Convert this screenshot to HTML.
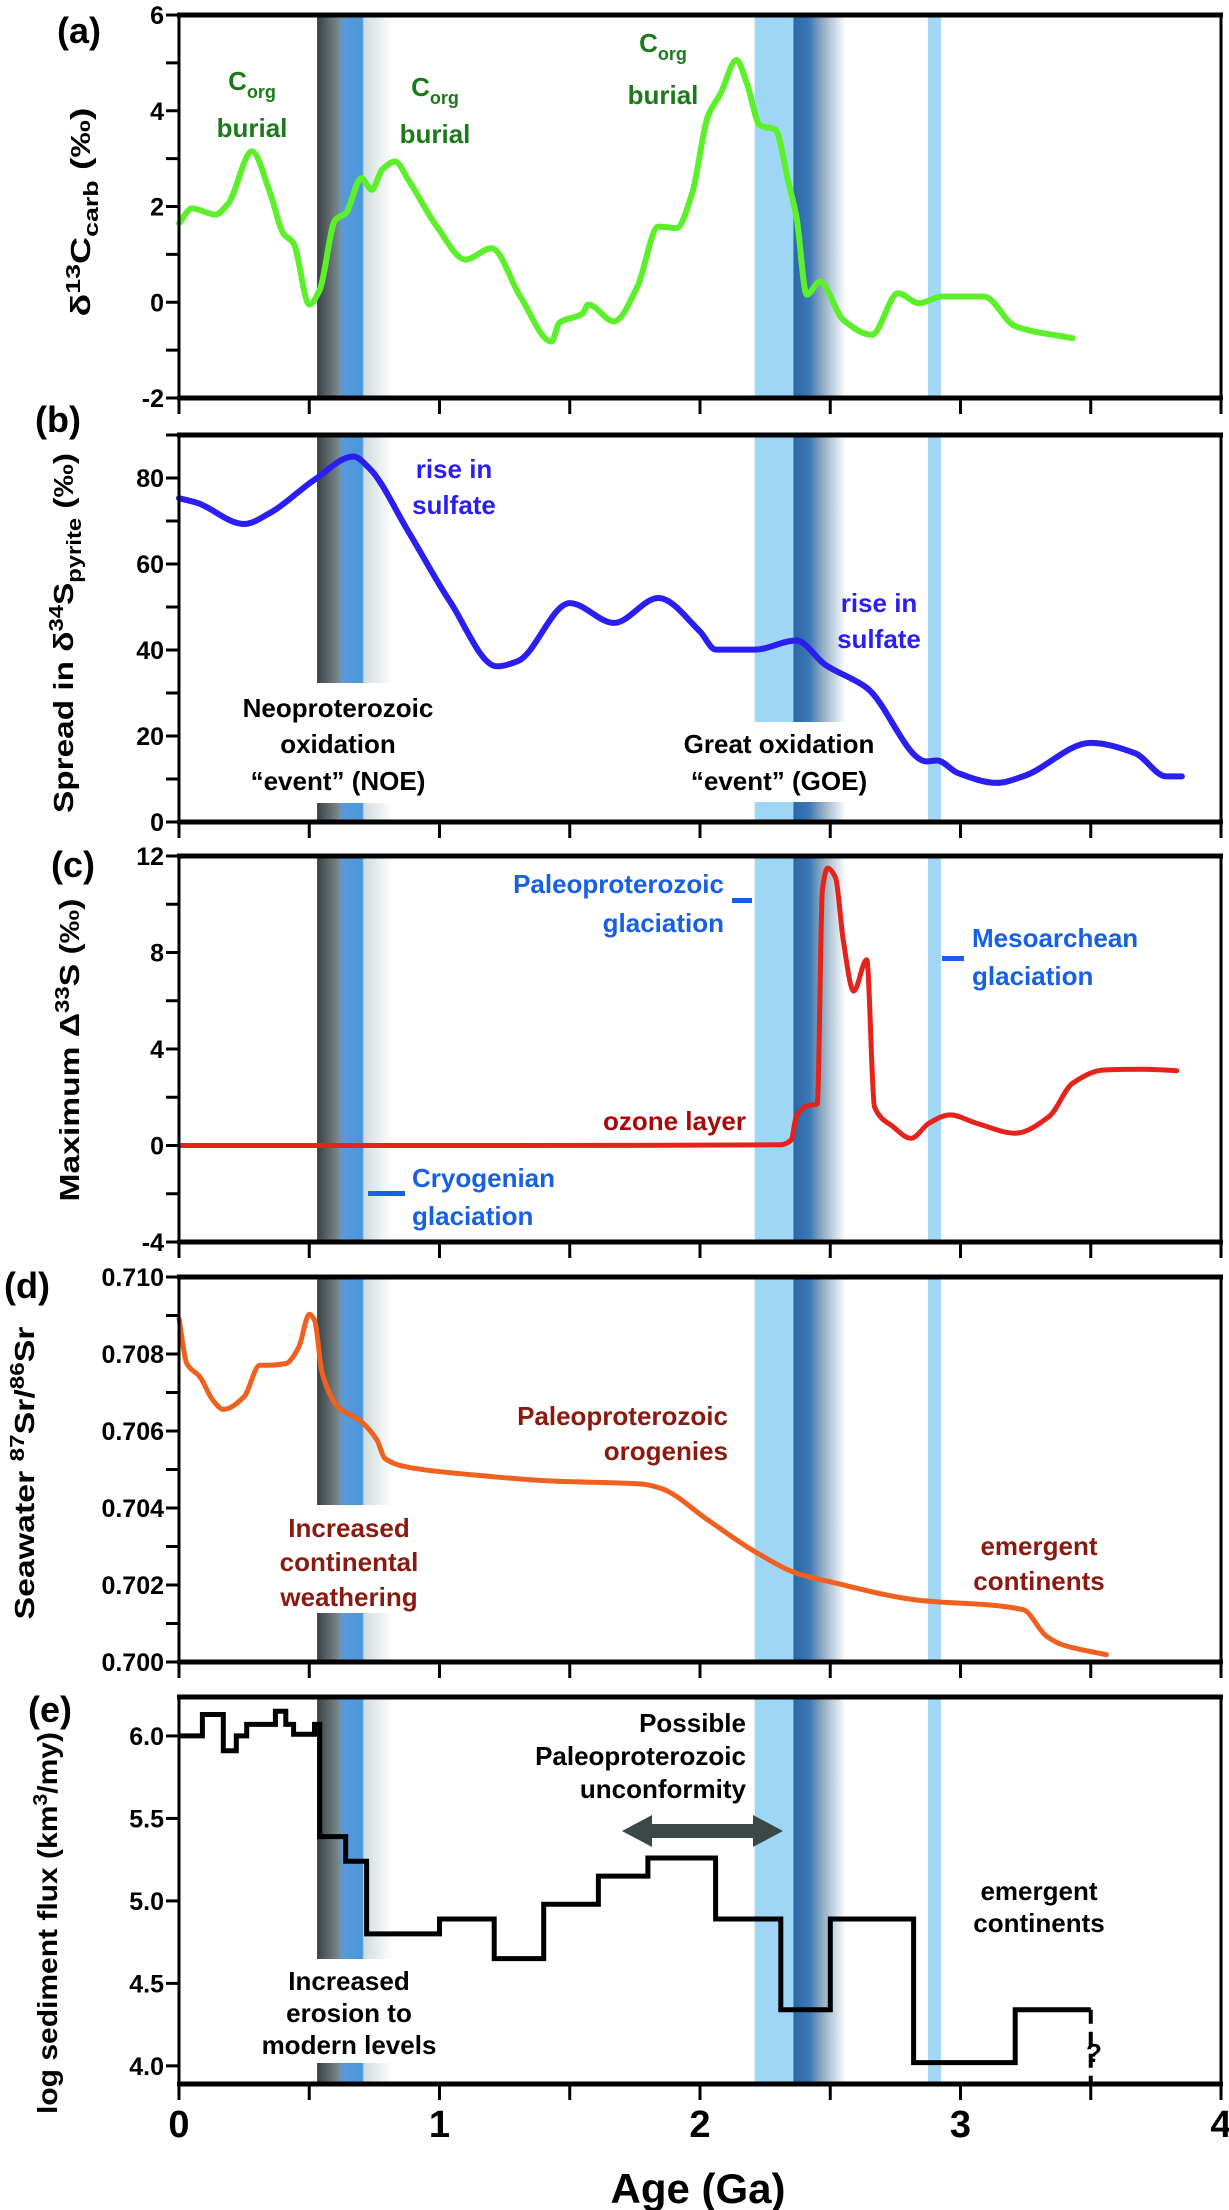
<!DOCTYPE html>
<html><head><meta charset="utf-8">
<style>
html,body{margin:0;padding:0;background:#fff;}
svg{display:block;}
.cn{font-family:"Liberation Sans",sans-serif;font-weight:bold;}
.ar{font-family:"Liberation Sans",sans-serif;font-weight:bold;}
</style></head>
<body>
<svg id="fig" width="1229" height="2210" viewBox="0 0 1229 2210" xmlns="http://www.w3.org/2000/svg">
<defs>
<linearGradient id="neo" x1="0" x2="1" y1="0" y2="0">
<stop offset="0" stop-color="#3a4242"/><stop offset="0.3" stop-color="#7d8c92"/><stop offset="0.32" stop-color="#5a9ad6"/><stop offset="0.6" stop-color="#4a96dc"/><stop offset="0.62" stop-color="#d0dcdc"/><stop offset="1" stop-color="#ffffff"/>
</linearGradient>
<linearGradient id="goe" x1="0" x2="1" y1="0" y2="0">
<stop offset="0" stop-color="#9fd6f6"/><stop offset="0.42" stop-color="#9fd6f6"/><stop offset="0.43" stop-color="#2a68a8"/><stop offset="0.6" stop-color="#3c78b6"/><stop offset="0.73" stop-color="#8aa8c0"/><stop offset="1" stop-color="#ffffff"/>
</linearGradient>
</defs>
<g id="bands"></g>
<g id="plots"></g>
<g id="ann"></g>
</svg>
<script>
// ---- data ----
const xTicks = [0,0.5,1,1.5,2,2.5,3,3.5,4];
const xTickLabels = ["0","1","2","3","4"];
const aAge = [0,0.05,0.14,0.19,0.28,0.35,0.40,0.44,0.50,0.54,0.60,0.64,0.70,0.74,0.78,0.83,0.88,0.99,1.10,1.20,1.31,1.43,1.46,1.55,1.57,1.67,1.76,1.84,1.91,1.97,2.03,2.08,2.14,2.18,2.23,2.29,2.34,2.37,2.41,2.46,2.55,2.66,2.76,2.84,2.93,3.09,3.21,3.43];
const aVal = [1.65,1.96,1.83,2.07,3.15,2.28,1.44,1.23,-0.05,0.26,1.72,1.86,2.59,2.35,2.77,2.94,2.56,1.58,0.89,1.13,0.12,-0.82,-0.43,-0.23,-0.05,-0.40,0.33,1.58,1.55,2.28,3.88,4.37,5.06,4.57,3.70,3.60,2.49,1.79,0.16,0.43,-0.37,-0.68,0.19,-0.02,0.12,0.12,-0.50,-0.75];
const bAge = [0,0.07,0.25,0.35,0.52,0.67,0.73,0.88,1.04,1.22,1.30,1.50,1.67,1.84,2.0,2.06,2.21,2.37,2.48,2.64,2.87,2.91,2.99,3.14,3.24,3.50,3.67,3.79,3.85];
const bVal = [75.3,74.2,69.3,71.9,79.6,85.0,82.3,67.6,51.3,36.2,37.4,50.9,46.3,52.1,44.3,40.1,40.1,42.2,36.6,31.2,14.1,14.3,11.4,9.1,10.6,18.4,16.0,10.6,10.6];
const cAge = [0,1.0,2.31,2.35,2.37,2.41,2.45,2.47,2.49,2.52,2.55,2.59,2.64,2.67,2.74,2.81,2.88,2.96,3.06,3.21,3.34,3.43,3.55,3.70,3.83];
const cVal = [0,0,0.03,0.23,1.20,1.64,1.72,10.6,11.5,11.1,8.5,6.4,7.7,1.6,0.79,0.30,0.93,1.27,0.93,0.51,1.20,2.58,3.13,3.16,3.10];
const dAge = [0,0.03,0.08,0.13,0.17,0.25,0.31,0.34,0.41,0.46,0.50,0.52,0.55,0.61,0.70,0.76,0.79,0.88,1.13,1.43,1.78,1.85,2.03,2.21,2.37,2.52,2.82,3.24,3.33,3.39,3.56];
const dVal = [0.70892,0.70775,0.70741,0.70680,0.70656,0.70689,0.70771,0.70771,0.70775,0.70818,0.70903,0.70888,0.70749,0.70663,0.70624,0.70576,0.70529,0.70506,0.70486,0.70470,0.70462,0.70451,0.70369,0.70287,0.70231,0.70205,0.70162,0.70136,0.70067,0.70045,0.70019];
const eEdges = [0,0.09,0.17,0.22,0.26,0.37,0.41,0.44,0.52,0.54,0.64,0.72,1.00,1.21,1.40,1.61,1.80,2.06,2.31,2.50,2.82,3.21,3.50];
const eVal = [6.0,6.13,5.91,6.0,6.07,6.15,6.07,6.01,6.07,5.39,5.24,4.80,4.89,4.65,4.98,5.15,5.26,4.89,4.34,4.89,4.02,4.34];
const aTicks=[-2,-1,0,1,2,3,4,5,6], aLabels=["-2","0","2","4","6"];
const bTicks=[0,10,20,30,40,50,60,70,80,90], bLabels=["0","20","40","60","80"];
const cTicks=[-4,-2,0,2,4,6,8,10,12], cLabels=["-4","0","4","8","12"];
const dTicks=[0.700,0.701,0.702,0.703,0.704,0.705,0.706,0.707,0.708,0.709,0.710], dLabels=["0.700","0.702","0.704","0.706","0.708","0.710"];
const eTicks=[4.0,4.5,5.0,5.5,6.0], eLabels=["4.0","4.5","5.0","5.5","6.0"];

// ---- layout ----
const NS="http://www.w3.org/2000/svg";
const X0=179, X1=1221, GA0=0, GA1=4;
function sx(g){return X0+(g-GA0)/(GA1-GA0)*(X1-X0);}
const panels={
 a:{top:15,bot:398,min:-2,max:6},
 b:{top:435,bot:822,min:0,max:90},
 c:{top:856,bot:1242,min:-4,max:12},
 d:{top:1277,bot:1662,min:0.700,max:0.710},
 e:{top:1697,bot:2084,min:3.89,max:6.236}
};
function sy(p,v){const P=panels[p];return P.bot-(v-P.min)/(P.max-P.min)*(P.bot-P.top);}
function mk(tag,attrs,parent){const e=document.createElementNS(NS,tag);for(const k in attrs)e.setAttribute(k,attrs[k]);parent.appendChild(e);return e;}
const gB=document.getElementById('bands'), gP=document.getElementById('plots');

// monotone cubic (Fritsch-Carlson) path
function smooth(pts){
 const n=pts.length, dx=[], m=[], t=new Array(n);
 for(let i=0;i<n-1;i++){dx.push(pts[i+1][0]-pts[i][0]);m.push((pts[i+1][1]-pts[i][1])/dx[i]);}
 t[0]=m[0];t[n-1]=m[n-2];
 for(let i=1;i<n-1;i++){
  if(m[i-1]*m[i]<=0)t[i]=0;
  else{const w1=2*dx[i]+dx[i-1],w2=dx[i]+2*dx[i-1];t[i]=(w1+w2)/(w1/m[i-1]+w2/m[i]);}
 }
 let d="M"+pts[0][0].toFixed(1)+","+pts[0][1].toFixed(1);
 for(let i=0;i<n-1;i++){
  const h=dx[i]/3;
  d+=" C"+(pts[i][0]+h).toFixed(1)+","+(pts[i][1]+t[i]*h).toFixed(1)+" "+(pts[i+1][0]-h).toFixed(1)+","+(pts[i+1][1]-t[i+1]*h).toFixed(1)+" "+pts[i+1][0].toFixed(1)+","+pts[i+1][1].toFixed(1);
 }
 return d;
}

for(const p in panels){
 const P=panels[p], h=P.bot-P.top;
 let r=mk('rect',{x:sx(0.53),y:P.top,width:sx(0.82)-sx(0.53),height:h,fill:'url(#neo)'},gB);
 
 
 r=mk('rect',{x:sx(2.21),y:P.top,width:sx(2.56)-sx(2.21),height:h,fill:'url(#goe)'},gB);
 
 
 r=mk('rect',{x:sx(2.875),y:P.top,width:sx(2.925)-sx(2.875),height:h,fill:'#a2d8f6'},gB);
 
 
}
[[sx(0.52),683,sx(0.84)-sx(0.52),120],[sx(2.2),722,sx(2.57)-sx(2.2),80],[sx(0.52),1505,sx(0.84)-sx(0.52),108],[sx(0.52),1959,sx(0.84)-sx(0.52),104]].forEach(g=>{
 const r=mk('rect',{x:g[0],y:g[1],width:g[2],height:g[3],fill:'#fff'},gB);
 
 
});

function series(p,ages,vals,color,w,name){
 const pts=ages.map((g,i)=>[sx(g),sy(p,vals[i])]);
 const e=mk('path',{d:smooth(pts),fill:'none',stroke:color,'stroke-width':w,'stroke-linejoin':'round','stroke-linecap':'round'},gP);
 
 
}
series('a',aAge,aVal,'#5cf02a',6,'d13c-carb-line');
series('b',bAge,bVal,'#2a1ff0',6,'d34s-spread-line');
series('c',cAge,cVal,'#e5231b',5,'d33s-max-line');
series('d',dAge,dVal,'#f0601e',5,'sr-ratio-line');
(function(){
 let d="";
 for(let i=0;i<eVal.length;i++){
  const y=sy('e',eVal[i]);
  d+=(i==0?"M":" L")+sx(eEdges[i]).toFixed(1)+","+y.toFixed(1)+" L"+sx(eEdges[i+1]).toFixed(1)+","+y.toFixed(1);
 }
 const e=mk('path',{d:d,fill:'none',stroke:'#000','stroke-width':5,'stroke-linejoin':'miter'},gP);
 
 
 const q=mk('line',{x1:sx(3.5),y1:sy('e',eVal[eVal.length-1]),x2:sx(3.5),y2:panels.e.bot,stroke:'#000','stroke-width':4,'stroke-dasharray':'14,8'},gP);
 
 
})();

const yT={a:[aTicks,aLabels],b:[bTicks,bLabels],c:[cTicks,cLabels],d:[dTicks,dLabels],e:[eTicks,eLabels]};
for(const p in panels){
 const P=panels[p];
 const f=mk('rect',{x:X0,y:P.top,width:X1-X0,height:P.bot-P.top,fill:'none',stroke:'#000','stroke-width':3},gP);
 
 
 mk('line',{x1:X0-2,y1:P.top,x2:X1+2,y2:P.top,stroke:'#000','stroke-width':5},gP);
 mk('line',{x1:X0-2,y1:P.bot,x2:X1+2,y2:P.bot,stroke:'#000','stroke-width':5},gP);
 xTicks.forEach(g=>{
  const t=mk('line',{x1:sx(g),y1:P.bot,x2:sx(g),y2:P.bot+16,stroke:'#000','stroke-width':3},gP);
  
  
 });
 const [ticks,labels]=yT[p];
 ticks.forEach(v=>{
  const t=mk('line',{x1:X0-13,y1:sy(p,v),x2:X0,y2:sy(p,v),stroke:'#000','stroke-width':3},gP);
  
  
 });
 labels.forEach(l=>{
  const v=parseFloat(l);
  const t=mk('text',{x:X0-15,y:sy(p,v)+9,'text-anchor':'end','font-size':25,class:'cn'},gP);
  t.textContent=l;
  
  
 });
}
xTickLabels.forEach((l,i)=>{
 const t=mk('text',{x:sx(i),y:2137,'text-anchor':'middle','font-size':38,class:'cn'},gP);
 t.textContent=l;
 
 
});
</script>

<svg width="1229" height="2210" style="position:absolute;left:0;top:0" xmlns="http://www.w3.org/2000/svg">
<g class="cn" font-size="26">
 <text x="57" y="43" font-size="36">(a)</text>
 <text x="35" y="432" font-size="36">(b)</text>
 <text x="51" y="877" font-size="36">(c)</text>
 <text x="4" y="1298" font-size="36">(d)</text>
 <text x="28" y="1722" font-size="36">(e)</text>

 <g fill="#1c7a1c" text-anchor="middle">
  <text x="252" y="90">C<tspan font-size="18" dy="8">org</tspan></text>
  <text x="252" y="137">burial</text>
  <text x="435" y="96">C<tspan font-size="18" dy="8">org</tspan></text>
  <text x="435" y="143">burial</text>
  <text x="663" y="52">C<tspan font-size="18" dy="8">org</tspan></text>
  <text x="663" y="104">burial</text>
 </g>

 <g fill="#2a1ff0" text-anchor="middle">
  <text x="454" y="478">rise in</text>
  <text x="454" y="514">sulfate</text>
  <text x="879" y="612">rise in</text>
  <text x="879" y="648">sulfate</text>
 </g>
 <g fill="#000" text-anchor="middle">
  <text x="338" y="717">Neoproterozoic</text>
  <text x="338" y="753">oxidation</text>
  <text x="338" y="790">“event” (NOE)</text>
  <text x="779" y="753">Great oxidation</text>
  <text x="779" y="790">“event” (GOE)</text>
 </g>

 <g fill="#1760e6">
  <text x="724" y="893" text-anchor="end">Paleoproterozoic</text>
  <text x="724" y="932" text-anchor="end">glaciation</text>
  <rect x="732" y="898" width="20" height="5"/>
  <text x="972" y="947">Mesoarchean</text>
  <text x="972" y="985">glaciation</text>
  <rect x="942" y="956" width="22" height="5"/>
  <text x="412" y="1187">Cryogenian</text>
  <text x="412" y="1225">glaciation</text>
  <rect x="368" y="1191" width="37" height="5"/>
 </g>
 <text x="746" y="1130" text-anchor="end" fill="#a80a0a">ozone layer</text>

 <g fill="#8a1a10">
  <text x="728" y="1425" text-anchor="end">Paleoproterozoic</text>
  <text x="728" y="1460" text-anchor="end">orogenies</text>
  <text x="349" y="1537" text-anchor="middle">Increased</text>
  <text x="349" y="1571" text-anchor="middle">continental</text>
  <text x="349" y="1606" text-anchor="middle">weathering</text>
  <text x="1039" y="1555" text-anchor="middle">emergent</text>
  <text x="1039" y="1590" text-anchor="middle">continents</text>
 </g>

 <g fill="#000" text-anchor="end">
  <text x="746" y="1732">Possible</text>
  <text x="746" y="1765">Paleoproterozoic</text>
  <text x="746" y="1798">unconformity</text>
 </g>
 <polygon fill="#3c4848" points="622,1831 652,1815 652,1824 753,1824 753,1815 783,1831 753,1847 753,1838 652,1838 652,1847"/>
 <g fill="#000" text-anchor="middle">
  <text x="349" y="1990">Increased</text>
  <text x="349" y="2022">erosion to</text>
  <text x="349" y="2054">modern levels</text>
  <text x="1039" y="1900">emergent</text>
  <text x="1039" y="1932">continents</text>
  <text x="1094" y="2062">?</text>
 </g>
 <text x="698" y="2203" text-anchor="middle" font-size="42">Age (Ga)</text>
</g>
<g class="ar" font-size="28" text-anchor="middle">
 <text transform="translate(90,212) rotate(-90)" textLength="209" lengthAdjust="spacingAndGlyphs">δ<tspan font-size="20" dy="-10">13</tspan><tspan dy="10">C</tspan><tspan font-size="20" dy="8">carb</tspan><tspan dy="-8"> (‰)</tspan></text>
 <text transform="translate(73,633) rotate(-90)" textLength="360" lengthAdjust="spacingAndGlyphs">Spread in δ<tspan font-size="20" dy="-10">34</tspan><tspan dy="10">S</tspan><tspan font-size="20" dy="8">pyrite</tspan><tspan dy="-8"> (‰)</tspan></text>
 <text transform="translate(79,1050) rotate(-90)" textLength="303" lengthAdjust="spacingAndGlyphs">Maximum Δ<tspan font-size="20" dy="-10">33</tspan><tspan dy="10">S (‰)</tspan></text>
 <text transform="translate(34,1473) rotate(-90)" textLength="293" lengthAdjust="spacingAndGlyphs">Seawater <tspan font-size="20" dy="-10">87</tspan><tspan dy="10">Sr/</tspan><tspan font-size="20" dy="-10">86</tspan><tspan dy="10">Sr</tspan></text>
 <text transform="translate(57,1923) rotate(-90)" textLength="382" lengthAdjust="spacingAndGlyphs">log sediment flux (km<tspan font-size="20" dy="-10">3</tspan><tspan dy="10">/my)</tspan></text>
</g>
</svg>
</body></html>
